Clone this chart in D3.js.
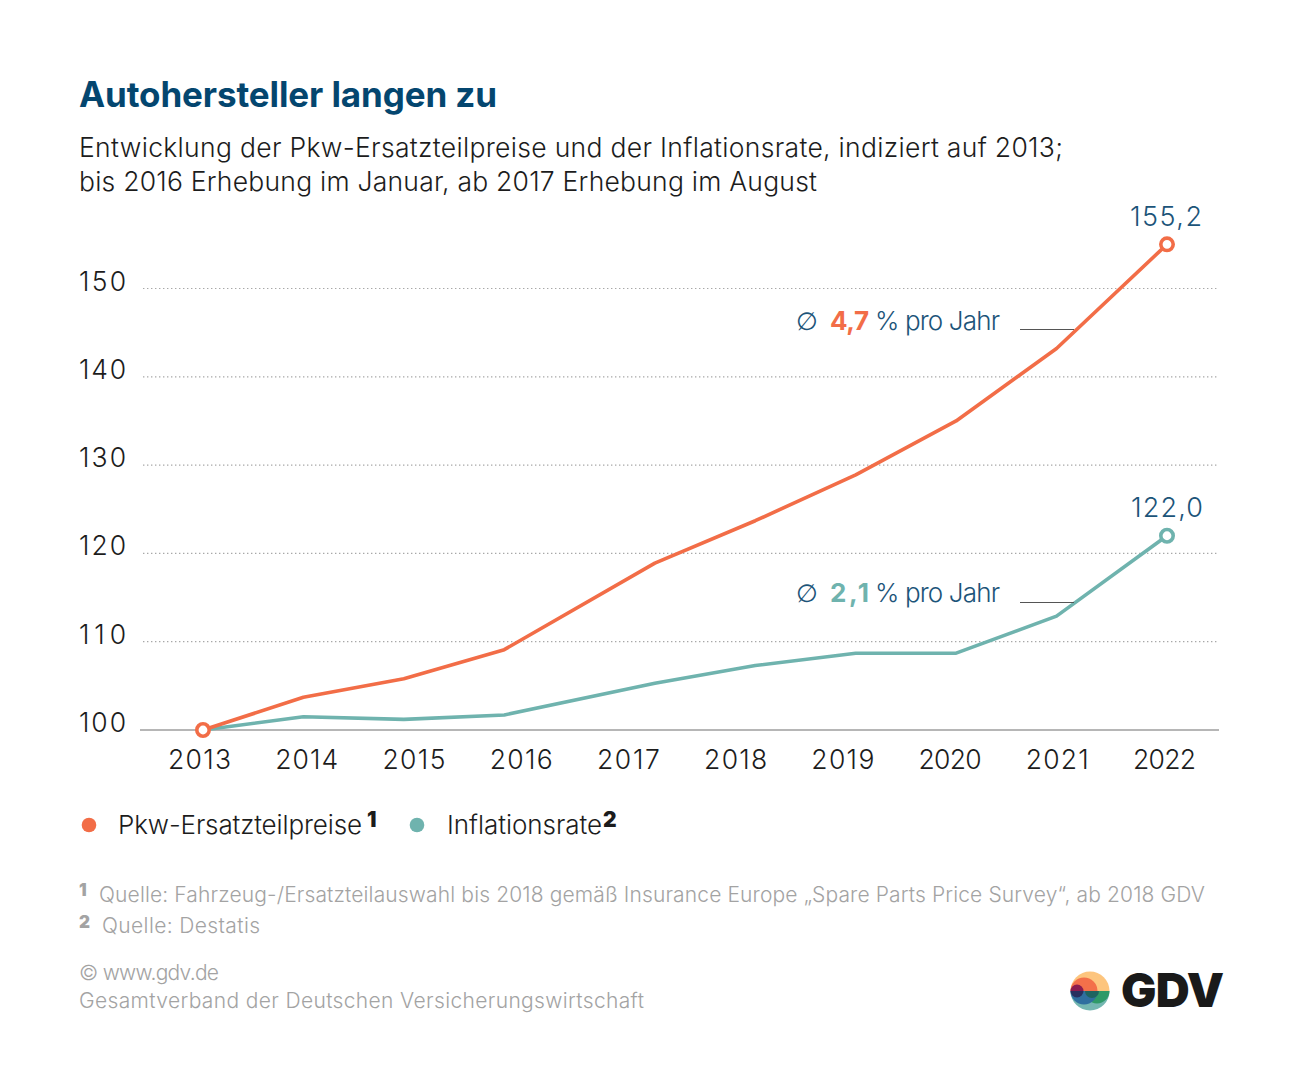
<!DOCTYPE html>
<html lang="de">
<head>
<meta charset="utf-8">
<script src="https://cdn.jsdelivr.net/npm/d3@7"></script>
<style>
  html, body { margin: 0; background: #fff; }
  svg { display: block; }
  text { font-family: "Inter", "Liberation Sans", sans-serif; font-weight: 300; }
</style>
</head>
<body>
<div class="chart"></div>
<script>
const yearLabels = ["2013", "2014", "2015", "2016", "2017", "2018", "2019", "2020", "2021", "2022"];
// survey dates: January until 2016, August from 2017, so the gaps are not even
const surveyTimes = [2013, 2014, 2015, 2016, 2017.5, 2018.5, 2019.5, 2020.5, 2021.5, 2022.6];
const sparePartPrices = [100, 103.7, 105.8, 109.1, 118.9, 123.7, 128.9, 135, 143.2, 155];
const inflationRate = [100, 101.5, 101.2, 101.7, 105.3, 107.3, 108.7, 108.7, 112.9, 122];
const yTicks = [100, 110, 120, 130, 140, 150];
const endLabels = ["155,2", "122,0"];
const yearlyAverages = ["4,7", "2,1"];

const width = 1297;
const height = 1078;
const navy = "#04466f";
const labelBlue = "#1c5479";
const orange = "#f26d47";
const teal = "#6fb3ae";
const ink = "#1c1c1c";
const grey = "#a3a3a3";

const x = d3.scaleLinear().domain([2013, 2022.6]).range([203, 1167]);
const xLabels = d3.scalePoint().domain(yearLabels).range([199, 1164]);
const y = d3.scaleLinear().domain([100, 150]).range([730, 288.5]);

const svg = d3.select(".chart").append("svg")
  .attr("width", width)
  .attr("height", height)
  .attr("viewBox", [0, 0, width, height]);

function label(parent, px, py, str, size, color, opts = {}) {
  const t = parent.append("text")
    .attr("x", px)
    .attr("y", py)
    .attr("font-size", size)
    .attr("fill", color)
    .text(str);
  if (opts.weight) t.style("font-weight", opts.weight);
  if (opts.anchor) t.attr("text-anchor", opts.anchor);
  // the original face isn't installed, so stretch the spacing to its widths
  if (opts.len) t.attr("textLength", opts.len).attr("lengthAdjust", "spacing");
  return t;
}

// heading
label(svg, 79, 107, "Autohersteller langen zu", 35, navy, { weight: 700, len: 418 });
label(svg, 79, 157, "Entwicklung der Pkw-Ersatzteilpreise und der Inflationsrate, indiziert auf 2013;", 26.5, ink, { len: 984 });
label(svg, 79, 191, "bis 2016 Erhebung im Januar, ab 2017 Erhebung im August", 26.5, ink, { len: 738 });

// grid
svg.append("g").selectAll("line")
  .data(yTicks.filter(d => d > 100))
  .join("line")
  .attr("x1", 143)
  .attr("x2", 1219)
  .attr("y1", d => y(d))
  .attr("y2", d => y(d))
  .attr("stroke", "#a8a8a8")
  .attr("stroke-width", 1.2)
  .attr("stroke-dasharray", "1.4 2.6");

svg.append("line")
  .attr("x1", 140)
  .attr("x2", 1219)
  .attr("y1", y(100))
  .attr("y2", y(100))
  .attr("stroke", "#6e6e6e")
  .attr("stroke-width", 1.2);

// axes
const yAxis = svg.append("g")
  .attr("transform", "translate(79,0)")
  .call(d3.axisRight(y).tickValues(yTicks).tickSize(0).tickPadding(0).tickFormat(d3.format("d")));
yAxis.select(".domain").remove();
yAxis.selectAll("text")
  .attr("font-size", 26.5)
  .attr("fill", ink)
  .attr("dy", "0.06em")
  .attr("text-anchor", "start")
  .attr("textLength", 47)
  .attr("lengthAdjust", "spacing");
yAxis.attr("font-family", null).attr("font-size", null);

const xAxis = svg.append("g")
  .attr("transform", `translate(0,${y(100)})`)
  .call(d3.axisBottom(xLabels).tickSize(0).tickPadding(20));
xAxis.select(".domain").remove();
xAxis.selectAll("text")
  .attr("font-size", 26.5)
  .attr("fill", ink)
  .attr("textLength", 63)
  .attr("lengthAdjust", "spacing");
xAxis.attr("font-family", null).attr("font-size", null);

// lines
const line = d3.line()
  .x((d, i) => x(surveyTimes[i]))
  .y(d => y(d));

const seriesList = [
  { values: inflationRate, color: teal },
  { values: sparePartPrices, color: orange }
];

svg.append("g").selectAll("path")
  .data(seriesList)
  .join("path")
  .attr("d", d => line(d.values))
  .attr("fill", "none")
  .attr("stroke", d => d.color)
  .attr("stroke-width", 3.6)
  .attr("stroke-linejoin", "round");

// end points and the common start point
const lastTime = surveyTimes[surveyTimes.length - 1];
const dots = [
  { t: lastTime, v: inflationRate[inflationRate.length - 1], color: teal },
  { t: lastTime, v: sparePartPrices[sparePartPrices.length - 1], color: orange },
  { t: surveyTimes[0], v: sparePartPrices[0], color: orange }
];
svg.append("g").selectAll("circle")
  .data(dots)
  .join("circle")
  .attr("cx", d => x(d.t))
  .attr("cy", d => y(d.v))
  .attr("r", 6.2)
  .attr("fill", "#fff")
  .attr("stroke", d => d.color)
  .attr("stroke-width", 3.6);

label(svg, 1166, 226, endLabels[0], 27, labelBlue, { anchor: "middle", len: 72 });
label(svg, 1167, 517, endLabels[1], 27, labelBlue, { anchor: "middle", len: 72 });

// average growth notes
[[330, yearlyAverages[0], orange, 329.5], [602, yearlyAverages[1], teal, 602.5]].forEach(([py, avg, color, ly]) => {
  label(svg, 796, py, "\u2205", 25, labelBlue).style("font-family", "DejaVu Sans");
  label(svg, 830, py, avg, 26, color, { weight: 700, len: 39 });
  label(svg, 875, py, "% pro Jahr", 26, labelBlue, { len: 125 });
  svg.append("line")
    .attr("x1", 1020)
    .attr("x2", 1074)
    .attr("y1", ly)
    .attr("y2", ly)
    .attr("stroke", "#555")
    .attr("stroke-width", 1);
});

// legend
svg.append("circle").attr("cx", 89).attr("cy", 825).attr("r", 7.3).attr("fill", orange);
svg.append("circle").attr("cx", 417).attr("cy", 825).attr("r", 7.3).attr("fill", teal);
label(svg, 118, 834, "Pkw-Ersatzteilpreise", 26, ink, { len: 244 });
label(svg, 367, 827, "1", 21, ink, { weight: 900 });
label(svg, 447, 834, "Inflationsrate", 26, ink, { len: 155 });
label(svg, 603, 827, "2", 21, ink, { weight: 900 });

// footnotes
label(svg, 79, 896, "1", 17, grey, { weight: 900 });
label(svg, 99, 902, "Quelle: Fahrzeug-/Ersatzteilauswahl bis 2018 gemäß Insurance Europe „Spare Parts Price Survey“, ab 2018 GDV", 21, grey, { len: 1106 });
label(svg, 79, 928, "2", 17, grey, { weight: 900 });
label(svg, 102, 933, "Quelle: Destatis", 21, grey, { len: 158 });
label(svg, 79, 980, "© www.gdv.de", 21, grey, { len: 140 });
label(svg, 79, 1008, "Gesamtverband der Deutschen Versicherungswirtschaft", 21, grey, { len: 565 });

// logo
const logo = svg.append("g").attr("transform", "translate(1090,991)");
const defs = svg.append("defs");
defs.append("clipPath").attr("id", "logo-top").append("rect").attr("x", -20).attr("y", -20).attr("width", 40).attr("height", 20);
defs.append("clipPath").attr("id", "logo-bottom").append("rect").attr("x", -20).attr("y", 0).attr("width", 40).attr("height", 20);
const logoTop = logo.append("g").attr("clip-path", "url(#logo-top)");
const logoBottom = logo.append("g").attr("clip-path", "url(#logo-bottom)");
logoTop.append("circle").attr("r", 19.5).attr("fill", "#fdc57e");
logoTop.append("circle").attr("cx", -6).attr("cy", 0).attr("r", 13.5).attr("fill", "#f3704a");
logoTop.append("circle").attr("cx", -13).attr("cy", 0).attr("r", 6.5).attr("fill", "#8c1c4e");
logoBottom.append("circle").attr("r", 19.5).attr("fill", "#74b7b1");
logoBottom.append("circle").attr("cx", 7).attr("cy", 0).attr("r", 12.5).attr("fill", "#2f9a68");
logoBottom.append("circle").attr("cx", -6).attr("cy", 0).attr("r", 13.5).attr("fill", "#2f6f9f");
logoBottom.append("circle").attr("cx", 2).attr("cy", 0).attr("r", 7).attr("fill", "#1f6460");
logoBottom.append("circle").attr("cx", -13).attr("cy", 0).attr("r", 6.5).attr("fill", "#27305f");
label(svg, 1121, 1007, "GDV", 47, "#1a1a1a", { weight: 900, len: 103 });
</script>
</body>
</html>
